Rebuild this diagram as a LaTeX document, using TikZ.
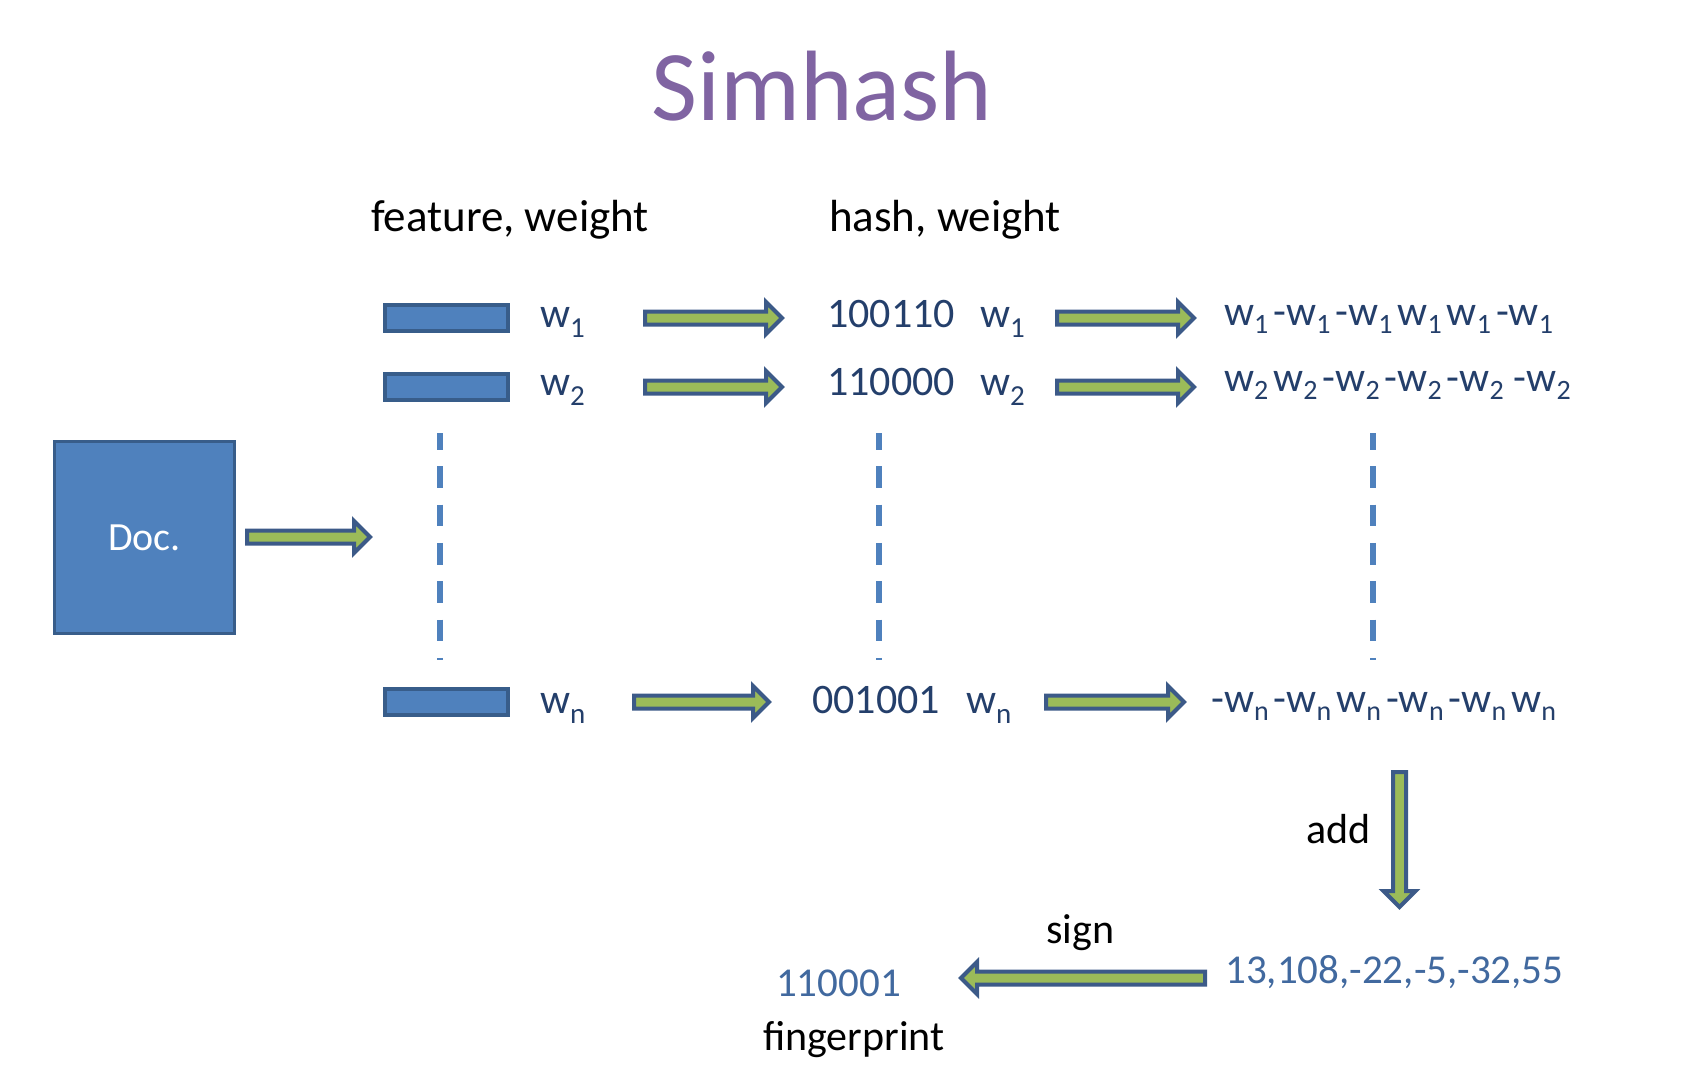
\documentclass[tikz,border=0pt]{standalone}
\usepackage{fontspec}
\setmainfont{Carlito}
\usetikzlibrary{calc}

\definecolor{titlepurple}{HTML}{8064A2}
\definecolor{inktext}{HTML}{243F6B}
\definecolor{resulttext}{HTML}{41699F}
\definecolor{boxfill}{HTML}{4F81BD}
\definecolor{boxedge}{HTML}{385D8A}
\definecolor{arrowfill}{HTML}{9BBB59}
\definecolor{arrowedge}{HTML}{3C5A88}
\definecolor{dashblue}{HTML}{4F81BD}

% weight symbol with a lowered index
\newcommand{\wgtA}[1]{w\raisebox{-10pt}{\fontsize{29}{29}\selectfont #1}}
\newcommand{\wgtB}[1]{w\raisebox{-8pt}{\fontsize{28}{28}\selectfont #1}}
\newcommand{\gp}{\hspace{5pt}}

\tikzset{
  lbl/.style={inner sep=0pt, anchor=base west, text=inktext,
    font=\fontsize{42}{44}\selectfont},
  plain/.style={inner sep=0pt, anchor=base west, text=black,
    font=\fontsize{42}{44}\selectfont},
  header/.style={inner sep=0pt, anchor=base west, text=black,
    font=\fontsize{45}{48}\selectfont},
  result/.style={inner sep=0pt, anchor=base west, text=resulttext,
    font=\fontsize{41}{44}\selectfont},
  featbar/.style={draw=boxedge, fill=boxfill, line width=3.5pt,
    minimum width=123pt, minimum height=26pt, inner sep=0pt},
  docbox/.style={draw=boxedge, fill=boxfill, line width=3.5pt,
    minimum width=180pt, minimum height=192pt, inner sep=0pt,
    text=white, font=\fontsize{40}{44}\selectfont},
  dashline/.style={draw=dashblue, line width=6pt,
    dash pattern=on 21.7pt off 16.6pt, dash phase=5pt},
  blockarrow/.style={draw=arrowedge, fill=arrowfill, line width=4pt,
    line join=miter,
    to path={
      ($(\tikztostart)!6.5pt!90:(\tikztotarget)$)
      -- ($(\tikztotarget)!16pt!(\tikztostart)!6.5pt!90:(\tikztotarget)$)
      -- ($(\tikztotarget)!16pt!(\tikztostart)!16pt!90:(\tikztotarget)$)
      -- (\tikztotarget)
      -- ($(\tikztotarget)!16pt!(\tikztostart)!16pt!-90:(\tikztotarget)$)
      -- ($(\tikztotarget)!16pt!(\tikztostart)!6.5pt!-90:(\tikztotarget)$)
      -- ($(\tikztostart)!6.5pt!-90:(\tikztotarget)$)
      -- cycle}},
}

\begin{document}
\begin{tikzpicture}[x=1pt, y=-1pt]
  \useasboundingbox[fill=white] (0,0) rectangle (1684,1084);

  % title
  \node[inner sep=0pt, anchor=base, text=titlepurple,
        font=\fontsize{100}{110}\selectfont] (title) at (822,120) {Simhash};

  % column headers
  \node[header] (hfeat) at (371,231) {feature, weight};
  \node[header] (hhash) at (829,231) {hash, weight};

  % document
  \node[docbox] (doc) at (144.5,537.5) {Doc.};

  % features
  \node[featbar] (f1) at (446.5,318) {};
  \node[featbar] (f2) at (446.5,387) {};
  \node[featbar] (fn) at (446.5,702) {};
  \node[lbl] (w1) at (540,327) {\wgtA{1}};
  \node[lbl] (w2) at (540,395) {\wgtA{2}};
  \node[lbl] (wn) at (540,713) {\wgtA{n}};

  % hashes
  \node[lbl] (h1) at (827,327) {100110};
  \node[lbl] (h2) at (827,395) {110000};
  \node[lbl] (hn) at (812,713) {001001};
  \node[lbl] (hw1) at (980,327) {\wgtA{1}};
  \node[lbl] (hw2) at (980,395) {\wgtA{2}};
  \node[lbl] (hwn) at (966,713) {\wgtA{n}};

  % signed weights
  \node[lbl] (r1) at (1224,325)
    {\wgtB{1}\gp-\wgtB{1}\gp-\wgtB{1}\gp\wgtB{1}\gp\wgtB{1}\gp-\wgtB{1}};
  \node[lbl] (r2) at (1224,391)
    {\wgtB{2}\gp\wgtB{2}\gp-\wgtB{2}\gp-\wgtB{2}\gp-\wgtB{2}\gp\gp-\wgtB{2}};
  \node[lbl] (rn) at (1211,712)
    {-\wgtB{n}\gp-\wgtB{n}\gp\wgtB{n}\gp-\wgtB{n}\gp-\wgtB{n}\gp\wgtB{n}};

  % sum and fingerprint
  \node[result] (sum) at (1225,983) {13,108,-22,-5,-32,55};
  \node[result] (fp) at (776,996) {110001};
  \node[plain] (fplbl) at (763,1050) {fingerprint};
  \node[plain] (addlbl) at (1306,843) {add};
  \node[plain] (signlbl) at (1046,943) {sign};

  % dotted continuation of the rows
  \coordinate (d1t) at (440,433);  \coordinate (d1b) at (440,660);
  \coordinate (d2t) at (879,433);  \coordinate (d2b) at (879,660);
  \coordinate (d3t) at (1373,433); \coordinate (d3b) at (1373,660);
  \draw[dashline] (d1t) -- (d1b);
  \draw[dashline] (d2t) -- (d2b);
  \draw[dashline] (d3t) -- (d3b);

  % arrow end points
  \coordinate (a0s) at (247,537);   \coordinate (a0e) at (370,537);
  \coordinate (a1s) at (645,318);   \coordinate (a1e) at (782,318);
  \coordinate (b1s) at (1057,318);  \coordinate (b1e) at (1194,318);
  \coordinate (a2s) at (645,387);   \coordinate (a2e) at (782,387);
  \coordinate (b2s) at (1057,387);  \coordinate (b2e) at (1194,387);
  \coordinate (ans) at (634,702);   \coordinate (ane) at (769,702);
  \coordinate (bns) at (1046,702);  \coordinate (bne) at (1184,702);
  \coordinate (adds) at (1399.5,772); \coordinate (adde) at (1399.5,907);
  \coordinate (sgns) at (1205,978); \coordinate (sgne) at (961,978);

  \path[blockarrow] (a0s) to (a0e);
  \path[blockarrow] (a1s) to (a1e);
  \path[blockarrow] (b1s) to (b1e);
  \path[blockarrow] (a2s) to (a2e);
  \path[blockarrow] (b2s) to (b2e);
  \path[blockarrow] (ans) to (ane);
  \path[blockarrow] (bns) to (bne);
  \path[blockarrow] (adds) to (adde);
  \path[blockarrow] (sgns) to (sgne);
\end{tikzpicture}
\end{document}
